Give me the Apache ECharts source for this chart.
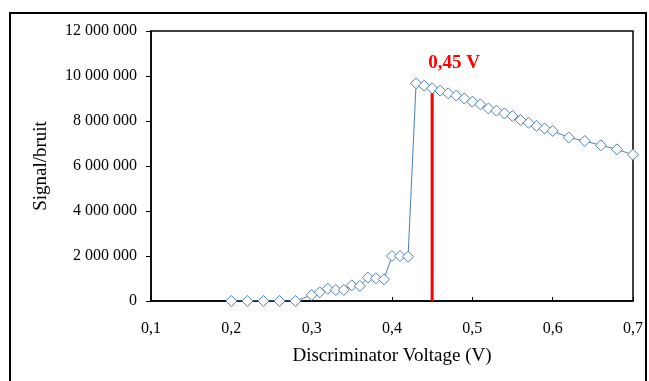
<!DOCTYPE html>
<html><head><meta charset="utf-8">
<script src="https://cdn.jsdelivr.net/npm/echarts@6/dist/echarts.min.js"></script>
<style>html,body{margin:0;padding:0;background:#fff}#c{width:649px;height:381px}</style>
</head><body><div id="c"></div>
<script>
const voltages = [0.20,0.22,0.24,0.26,0.28,0.30,0.31,0.32,0.33,0.34,0.35,0.36,0.37,0.38,0.39,0.40,0.41,0.42,
  0.43,0.44,0.45,0.46,0.47,0.48,0.49,0.50,0.51,0.52,0.53,0.54,0.55,0.56,0.57,0.58,0.59,0.60,0.62,0.64,0.66,0.68,0.70];
const snr = [0,0,0,0,0,267000,387000,547000,489000,489000,698000,667000,1040000,1010000,964000,2000000,2000000,1970000,
  9675000,9570000,9450000,9350000,9230000,9130000,9000000,8860000,8740000,8560000,8460000,8340000,8220000,8040000,7920000,7780000,7670000,7560000,7270000,7110000,6920000,6740000,6500000];
const thresholdV = 0.45;
const thresholdSnr = 9450000;
const thresholdLabel = '0,45 V';
const xTicks = {min:0.1, max:0.7, interval:0.1};
const yTicks = {min:0, max:12000000, interval:2000000};
const xName = 'Discriminator Voltage (V)';
const yName = 'Signal/bruit';

const serif = '"Liberation Serif","DejaVu Serif",serif';
const chart = echarts.init(document.getElementById('c'), null, {renderer:'canvas'});
chart.setOption({
  animation:false,
  graphic:[{type:'rect', shape:{x:10, y:13, width:636, height:400}, style:{fill:'none', stroke:'#000', lineWidth:2}, z:100}],
  grid:{left:151, right:16, top:31, bottom:80, show:true, borderColor:'#000', borderWidth:1.5},
  xAxis:{type:'value', min:xTicks.min, max:xTicks.max, interval:xTicks.interval,
    name:xName, nameLocation:'middle', nameGap:46,
    nameTextStyle:{fontFamily:serif, fontSize:19, color:'#000'},
    axisLine:{show:true, onZero:false, lineStyle:{color:'#000', width:1.5}},
    axisTick:{show:true, inside:true, length:4, lineStyle:{color:'#000'}},
    axisLabel:{margin:20, fontFamily:serif, fontSize:16, color:'#000', formatter:v=>v.toFixed(1).replace('.',',')},
    splitLine:{show:false}},
  yAxis:{type:'value', min:yTicks.min, max:yTicks.max, interval:yTicks.interval,
    name:yName, nameLocation:'middle', nameGap:100,
    nameTextStyle:{fontFamily:serif, fontSize:19, color:'#000'},
    axisLine:{show:true, lineStyle:{color:'#000', width:1.5}},
    axisTick:{show:true, inside:false, length:5, lineStyle:{color:'#000'}},
    axisLabel:{margin:14, fontFamily:serif, fontSize:16, color:'#000',
      formatter:v=>String(Math.round(v)).replace(/\B(?=(\d{3})+(?!\d))/g,' ')},
    splitLine:{show:false}},
  series:[
    {type:'line', data:[[thresholdV,0],[thresholdV,thresholdSnr]], symbol:'none', silent:true,
      lineStyle:{color:'#ff0000', width:3}, z:1,
      label:{show:false},
      endLabel:{show:true, formatter:thresholdLabel, color:'#ff0000', fontFamily:serif, fontSize:19, fontWeight:'bold', offset:[-12,-25]}},
    {type:'line', data:voltages.map((v,i)=>[v,snr[i]]), symbol:'diamond', symbolSize:[11,11],
      lineStyle:{color:'#4a7ebb', width:1}, itemStyle:{color:'#fff', borderColor:'#4a7ebb', borderWidth:1}, z:3}
  ]
});
</script></body></html>
